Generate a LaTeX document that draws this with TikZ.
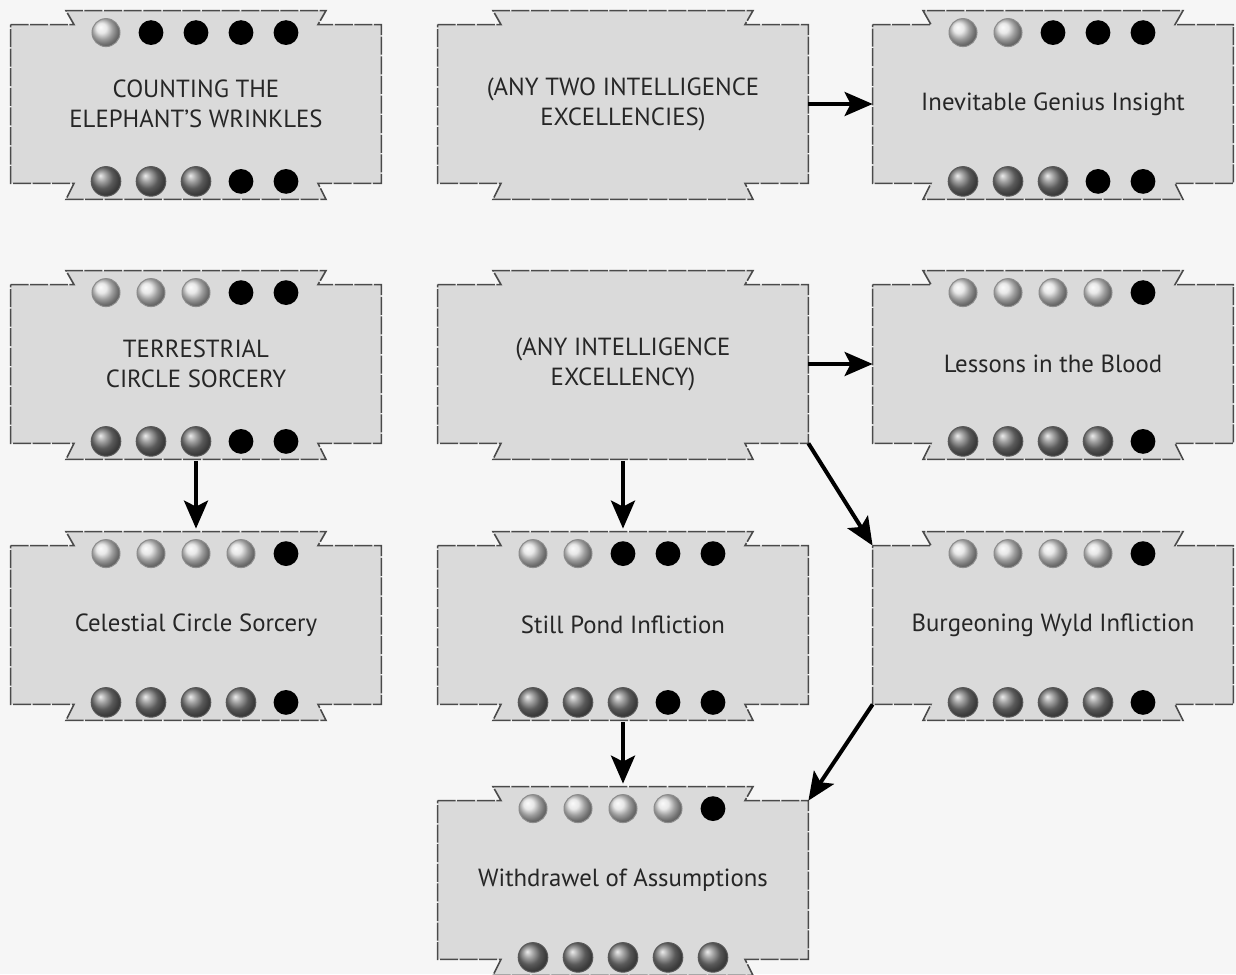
\documentclass[tikz,border=0pt]{standalone}
\usepackage{fontspec}
\setmainfont{PT Sans}
\usetikzlibrary{calc,arrows.meta,backgrounds}
\definecolor{paper}{HTML}{F6F6F6}
\definecolor{card}{HTML}{DADADA}
\definecolor{rimgray}{HTML}{4A4A4A}

% five motes on top (light ones first) and five below (dark ones first)
\newcommand\motes[3]{%
  \foreach \k in {1,...,5}{%
    \ifnum\k>#2\relax
      \fill[black] ($(#1.north)+({(\k-3)*45},8)$) circle (6.2pt);
    \else
      \shadedraw[lightmote] ($(#1.north)+({(\k-3)*45},8)$) circle (7pt);
    \fi
    \ifnum\k>#3\relax
      \fill[black] ($(#1.south)+({(\k-3)*45},-2)$) circle (6.2pt);
    \else
      \shadedraw[darkmote] ($(#1.south)+({(\k-3)*45},-2)$) circle (7.4pt);
    \fi
  }%
}

\begin{document}
\begin{tikzpicture}[x=0.5pt, y=-0.5pt,
  charm/.style={minimum width=185pt, minimum height=79pt, inner sep=0pt,
                align=center, font=\fontsize{12.4}{15}\selectfont, text=black!85},
  narrow/.style={minimum width=180pt},
  rim/.style={fill=card, draw=rimgray, line width=0.8pt,
              dash pattern=on 9pt off 0.8pt},
  arr/.style={line width=2pt, -{Stealth[length=14pt, width=12pt, inset=3pt]}},
  down/.style={arr, shorten <=9pt, shorten >=8.5pt},
  lightmote/.style={ball color=black!12, draw=black!45, line width=0.5pt},
  darkmote/.style={ball color=black!50, draw=black!65, line width=0.5pt},
]
\useasboundingbox (0,0) rectangle (1236,974);

% Row 1
\node[charm] (counting) at (196,104) {COUNTING THE\\ELEPHANT’S WRINKLES};
\node[charm] (anytwo) at (623,104) {(ANY TWO INTELLIGENCE\\EXCELLENCIES)};
\node[charm, narrow] (genius) at (1053,104) {Inevitable Genius Insight};

% Row 2
\node[charm] (terrestrial) at (196,364) {TERRESTRIAL\\CIRCLE SORCERY};
\node[charm] (anyone) at (623,364) {(ANY INTELLIGENCE\\EXCELLENCY)};
\node[charm, narrow] (lessons) at (1053,364) {Lessons in the Blood};

% Row 3
\node[charm] (celestial) at (196,625) {Celestial Circle Sorcery};
\node[charm] (stillpond) at (623,625) {Still Pond Infliction};
\node[charm, narrow] (wyld) at (1053,625) {Burgeoning Wyld Infliction};

% Row 4
\node[charm] (withdrawel) at (623,880) {Withdrawel of Assumptions};

% Card outlines with the notched tabs, behind the text
\begin{scope}[on background layer]
  \fill[paper] (0,0) rectangle (1236,974);
  \foreach \n in {counting,anytwo,genius,terrestrial,anyone,lessons,
                  celestial,stillpond,wyld,withdrawel}
    \draw[rim] (\n.north west) -- ($(\n.north)+(-122,0)$)
      -- ($(\n.north)+(-130,-14)$) -- ($(\n.north)+(130,-14)$)
      -- ($(\n.north)+(122,0)$) -- (\n.north east) -- (\n.south east)
      -- ($(\n.south)+(122,0)$) -- ($(\n.south)+(130,16)$)
      -- ($(\n.south)+(-130,16)$) -- ($(\n.south)+(-122,0)$)
      -- (\n.south west) -- cycle;
\end{scope}

% Essence motes
\motes{counting}{1}{3}
\motes{genius}{2}{3}
\motes{terrestrial}{3}{3}
\motes{lessons}{4}{4}
\motes{celestial}{4}{4}
\motes{stillpond}{2}{3}
\motes{wyld}{4}{4}
\motes{withdrawel}{4}{5}

% Prerequisites
\draw[arr] (anytwo) -- (genius);
\draw[arr] (anyone) -- (lessons);
\draw[down] (terrestrial) -- (celestial);
\draw[down] (anyone) -- (stillpond);
\draw[down] (stillpond) -- (withdrawel);
\draw[arr] (anyone.south east) -- (wyld.north west);
\draw[arr] (wyld.south west) -- (withdrawel.north east);

\end{tikzpicture}
\end{document}
